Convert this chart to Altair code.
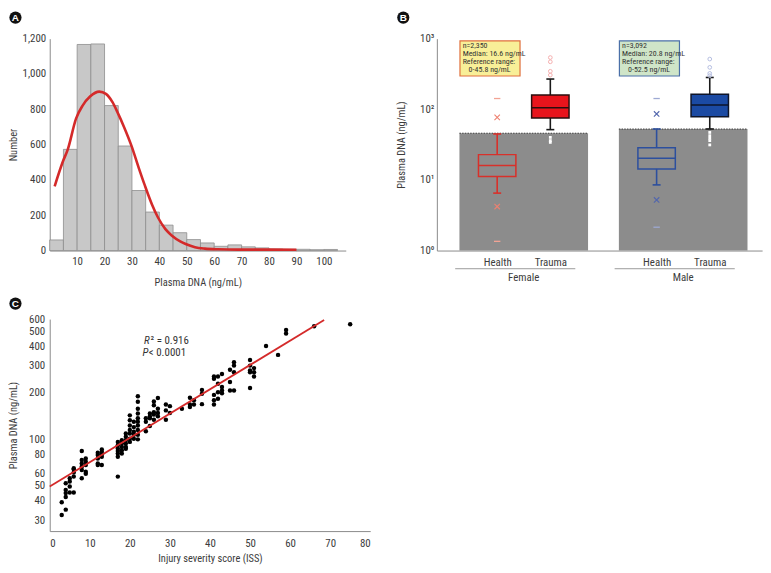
import altair as alt
import pandas as pd

FONT = "Roboto Condensed, Liberation Sans Narrow, DejaVu Sans Condensed, Roboto, sans-serif"
BOLD = "Liberation Sans, Arial, sans-serif"

# ---------------- Panel A : histogram ----------------
bin_start = list(range(0, 105, 5))
bin_count = [60, 573, 1167, 1170, 821, 592, 340, 218, 144, 101, 62, 43, 24, 32, 21, 15, 9, 7, 7, 5, 6]
fit_x = [1.8, 4.8, 6.6, 9.6, 12.0, 14.7, 18.1, 20.5, 22.9, 24.7, 27.1, 29.8, 32.5, 34.6,
         37.3, 39.5, 42.2, 44.6, 47.6, 49.6, 53.0, 56.6, 61.4, 68.7, 78.3, 90.0]
fit_y = [364, 504, 573, 747, 821, 872, 900, 887, 840, 784, 700, 594, 467, 373,
         261, 187, 121, 84, 52, 37, 19, 11, 7, 5, 5, 4]

# ---------------- Panel B : box plots ----------------
box_group = ["Female Health", "Female Trauma", "Male Health", "Male Trauma"]
box_q1 = [11.2, 75.3, 14.3, 78.6]
box_median = [16.0, 105, 20.2, 115]
box_q3 = [22.8, 159, 28.6, 162.6]
whisker_low = [6.5, 51.5, 8.5, 52.6]
whisker_high = [44.7, 268, 52.6, 282]

cross_group = ["Female Health", "Female Health", "Male Health", "Male Health"]
cross_value = [76.9, 4.2, 85.8, 5.2]
dash_group = ["Female Health", "Female Health", "Male Health", "Male Health"]
dash_value = [142, 1.35, 142, 2.14]
high_out_group = ["Female Trauma"] * 4 + ["Male Trauma"] * 4
high_out_value = [540, 470, 345, 305, 514, 392, 322, 299]
low_out_group = ["Female Trauma"] * 3 + ["Male Trauma"] * 5
low_out_value = [40, 36, 34, 47, 42.3, 38.8, 36, 31.3]

sex = ["Female", "Male"]
ref_upper = [45.8, 52.5]
annot_head = ["n=2,350\nMedian: 16.6 ng/mL\nReference range:",
              "n=3,092\nMedian: 20.8 ng/mL\nReference range:"]
annot_range = ["0-45.8 ng/mL", "0-52.5 ng/mL"]

# ---------------- Panel C : scatter ----------------
iss = ([3] * 2 + [4] * 5 + [5] * 4 + [6] * 5 + [8] * 6 + [9] * 5 + [12] * 5 + [13] * 5 +
       [17] * 7 + [18] * 5 + [19] * 6 + [20] * 7 + [21] * 5 + [22] * 10 + [24] * 3 + [25] * 4 +
       [26] * 5 + [27] * 4 + [29] * 3 + [30] * 2 + [33] + [35] * 3 + [36] * 2 + [38] * 3 +
       [41] * 5 + [42] * 4 + [43] * 4 + [45] * 3 + [46] * 4 + [50] * 5 + [51] * 3 +
       [54, 57, 59, 59, 66, 75])
dna = [39.2, 32.4,
       52.0, 47.1, 44.9, 42.4, 35.1,
       56.0, 53.3, 49.5, 45.3,
       64.0, 61.0, 57.4, 45.3, 65.0,
       84.0, 73.5, 69.9, 66.5, 63.3, 56.0,
       75.2, 71.7, 68.2, 61.8, 59.9,
       82.0, 79.2, 75.2, 69.9, 68.2,
       86.0, 83.0, 80.2, 77.2, 68.2,
       96.3, 91.7, 87.3, 84.2, 81.0, 77.2, 57.4,
       98.7, 94.0, 89.4, 85.0, 81.0,
       109, 104, 98.7, 94.0, 89.4, 87.0,
       143, 133, 123, 115, 109, 101, 96.3,
       130, 120, 112, 107, 101,
       190, 175, 158, 147, 137, 130, 123, 115, 107, 100,
       137, 130, 113,
       147, 141, 137, 122,
       176, 166, 150, 145, 134,
       185, 158, 148, 141,
       168, 154, 134,
       164, 148,
       158,
       186, 168, 162,
       179, 168,
       209, 197, 169,
       255, 247, 194, 179, 168,
       255, 229, 202, 183,
       265, 218, 207, 199,
       282, 235, 207,
       315, 300, 272, 207,
       326, 300, 279, 272, 215,
       289, 272, 255,
       402, 352, 510, 484, 540, 556]
reg_x = [0, 68.5]
reg_y = [49.6, 591]

# ---------------- layout constants ----------------
WA, HA = 298, 213.3
WB, HB = 327.4, 213.3
WC, HC = 322.6, 213.4
LINE_RED = "#d42a2a"


def letter(ch, dx, dy):
    base = alt.Chart(pd.DataFrame({"t": [ch]}))
    c = base.mark_circle(color="#111111", opacity=1, size=150).encode(
        x=alt.value(dx), y=alt.value(dy))
    t = base.mark_text(color="white", font=BOLD, fontWeight="bold", fontSize=10,
                       baseline="middle", align="center").encode(
        x=alt.value(dx), y=alt.value(dy + 0.5), text="t:N")
    return [c, t]


# ================= Panel A =================
dfA = pd.DataFrame({"start": bin_start, "count": bin_count})
dfA["end"] = dfA["start"] + 5
dfFit = pd.DataFrame({"x": fit_x, "y": fit_y})
xA = alt.Scale(domain=[0, 108], nice=False, zero=False)
yA = alt.Scale(domain=[0, 1200], nice=False)
axA_x = alt.Axis(values=list(range(10, 101, 10)), title="Plasma DNA (ng/mL)",
                 titleY=32, titleBaseline="middle", labelPadding=5)
axA_y = alt.Axis(values=list(range(0, 1201, 200)), labelExpr="format(datum.value, ',')",
                 title="Number", titleX=-36, titleY=HA / 2, titleAngle=-90,
                 titleBaseline="middle", labelPadding=4)

histA = alt.Chart(dfA).mark_rect(fill="#c8c8c8", stroke="#8e8e8e", strokeWidth=0.8).encode(
    x=alt.X("start:Q", scale=xA, axis=axA_x),
    x2="end:Q",
    y=alt.Y("count:Q", scale=yA, axis=axA_y),
    y2=alt.datum(0),
)
fitA = alt.Chart(dfFit).mark_line(color=LINE_RED, strokeWidth=2.6, interpolate="monotone").encode(
    x=alt.X("x:Q", scale=xA, axis=axA_x),
    y=alt.Y("y:Q", scale=yA, axis=axA_y),
)
anchor = alt.Chart(pd.DataFrame({"a": [0]})).mark_rect(opacity=0).encode(
    x=alt.value(-42), x2=alt.value(-41.5), y=alt.value(-28.7), y2=alt.value(-28.2))
panelA = alt.layer(histA, fitA, anchor, *letter("A", -34.5, -21.2)).properties(width=WA, height=HA)

# ================= Panel B =================
slot_order = ["Female Health", "Female Trauma", None, "Male Health", "Male Trauma"]
slot = {g: i + 1 for i, g in enumerate(slot_order) if g}
BOX_HALF, CAP_HALF, DASH_HALF, GRAY_HALF = 0.352, 0.075, 0.06, 1.21

xB = alt.Scale(domain=[-0.135, 5.985], nice=False, zero=False)
yB = alt.Scale(type="log", domain=[1, 1000], nice=False)
label_expr = ("datum.value == 1 ? '10\u2070' : datum.value == 10 ? '10\u00b9' : "
              "datum.value == 100 ? '10\u00b2' : '10\u00b3'")
axB_x = alt.Axis(values=[1, 2, 4, 5], title=None, labelPadding=6, labelFontSize=11,
                 labelExpr="datum.value == 1 || datum.value == 4 ? 'Health' : 'Trauma'")
axB_y = alt.Axis(values=[1, 10, 100, 1000], labelExpr=label_expr, labelPadding=3,
                 title="Plasma DNA (ng/mL)", titleX=-35.3, titleY=HB / 2,
                 titleAngle=-90, titleBaseline="middle")


def XB(f):
    return alt.X(f, scale=xB, axis=axB_x)


def YB(f):
    return alt.Y(f, scale=yB, axis=axB_y)


dfSex = pd.DataFrame({"sex": sex, "ref": ref_upper, "head": annot_head, "range": annot_range})
dfSex["mid"] = [(slot[s + " Health"] + slot[s + " Trauma"]) / 2 for s in sex]
dfSex["gl"] = dfSex["mid"] - GRAY_HALF
dfSex["gr"] = dfSex["mid"] + GRAY_HALF
dfSex["bl"] = dfSex["mid"] - 1.20
dfSex["br"] = dfSex["mid"] - 0.07
dfSex["tx"] = dfSex["mid"] - 1.15
dfSex["ul"] = dfSex["mid"] - 1.29
dfSex["ur"] = dfSex["mid"] + 0.97

grayB = alt.Chart(dfSex).mark_rect(fill="#8c8c8c").encode(
    x=XB("gl:Q"), x2="gr:Q", y=YB("ref:Q"), y2=alt.datum(1))
dotB = alt.Chart(dfSex).mark_rule(color="#3a3a3a", strokeDash=[1.5, 1.2], strokeWidth=1).encode(
    x=XB("gl:Q"), x2="gr:Q", y=YB("ref:Q"))

box_df = pd.DataFrame({"group": box_group, "q1": box_q1, "med": box_median, "q3": box_q3,
                       "wlo": whisker_low, "whi": whisker_high})
box_df["s"] = box_df["group"].map(slot)
box_df["l"] = box_df["s"] - BOX_HALF
box_df["r"] = box_df["s"] + BOX_HALF
box_df["cl"] = box_df["s"] - CAP_HALF
box_df["cr"] = box_df["s"] + CAP_HALF

style = {
    "Female Health": dict(fill="#000000", fo=0, stroke="#d8302a", line="#d8302a", med="#d8302a"),
    "Female Trauma": dict(fill="#e8141c", fo=1, stroke="#2a0e0e", line="#1a1a1a", med="#2a0e0e"),
    "Male Health": dict(fill="#000000", fo=0, stroke="#2c4f9e", line="#2c4f9e", med="#2c4f9e"),
    "Male Trauma": dict(fill="#1b4aa3", fo=1, stroke="#0e1428", line="#1a1a1a", med="#0e1428"),
}

box_layers = []
for g in box_group:
    st = style[g]
    base = alt.Chart(box_df).transform_filter(alt.datum.group == g)
    box_layers += [
        base.mark_rule(color=st["line"], strokeWidth=1.6).encode(x=XB("s:Q"), y=YB("wlo:Q"), y2="q1:Q"),
        base.mark_rule(color=st["line"], strokeWidth=1.6).encode(x=XB("s:Q"), y=YB("q3:Q"), y2="whi:Q"),
        base.mark_rule(color=st["line"], strokeWidth=1.6).encode(x=XB("cl:Q"), x2="cr:Q", y=YB("wlo:Q")),
        base.mark_rule(color=st["line"], strokeWidth=1.6).encode(x=XB("cl:Q"), x2="cr:Q", y=YB("whi:Q")),
        base.mark_rect(fill=st["fill"], fillOpacity=st["fo"], stroke=st["stroke"], strokeWidth=1.5).encode(
            x=XB("l:Q"), x2="r:Q", y=YB("q1:Q"), y2="q3:Q"),
        base.mark_rule(color=st["med"], strokeWidth=1.5).encode(x=XB("l:Q"), x2="r:Q", y=YB("med:Q")),
    ]

cross_df = pd.DataFrame({"group": cross_group, "v": cross_value})
cross_df["s"] = cross_df["group"].map(slot)
dash_df = pd.DataFrame({"group": dash_group, "v": dash_value})
dash_df["s"] = dash_df["group"].map(slot)
dash_df["l"] = dash_df["s"] - DASH_HALF
dash_df["r"] = dash_df["s"] + DASH_HALF
hi_df = pd.DataFrame({"group": high_out_group, "v": high_out_value})
hi_df["s"] = hi_df["group"].map(slot)
lo_df = pd.DataFrame({"group": low_out_group, "v": low_out_value})
lo_df["s"] = lo_df["group"].map(slot)

marker_colors = {"Female": dict(cross="#ee8070", dash="#f2a394", hi="#f4aeae"),
                 "Male": dict(cross="#5266ad", dash="#9ea9d3", hi="#b3bce0")}
XPATH = "M-1,-1L1,1M-1,1L1,-1"
marker_layers = []
for sx in sex:
    mc = marker_colors[sx]
    is_sex = alt.expr.indexof(alt.datum.group, sx) == 0
    marker_layers += [
        alt.Chart(cross_df).transform_filter(is_sex).mark_point(
            shape=XPATH, size=30, color=mc["cross"], strokeWidth=1.1, filled=False, opacity=1).encode(
            x=XB("s:Q"), y=YB("v:Q")),
        alt.Chart(dash_df).transform_filter(is_sex).mark_rule(color=mc["dash"], strokeWidth=1.3).encode(
            x=XB("l:Q"), x2="r:Q", y=YB("v:Q")),
        alt.Chart(hi_df).transform_filter(is_sex).mark_point(
            shape="circle", size=14, color=mc["hi"], strokeWidth=1, filled=False, opacity=1).encode(
            x=XB("s:Q"), y=YB("v:Q")),
    ]
marker_layers.append(
    alt.Chart(lo_df).mark_point(shape="square", size=8, color="white", filled=True, opacity=1).encode(
        x=XB("s:Q"), y=YB("v:Q")))

annot_style = {"Female": ("#f8ef98", "#e0703e"), "Male": ("#cfe5c8", "#4b70a8")}
annot_layers = []
for sx in sex:
    fillc, strokec = annot_style[sx]
    annot_layers.append(
        alt.Chart(dfSex).transform_filter(alt.datum.sex == sx).mark_rect(
            fill=fillc, stroke=strokec, strokeWidth=1.2).encode(
            x=XB("bl:Q"), x2="br:Q", y=alt.value(2.3), y2=alt.value(37.6)))
LH = 8.33
annot_layers += [
    alt.Chart(dfSex).mark_text(align="left", baseline="top", font=FONT, fontSize=8, lineHeight=LH,
                               lineBreak="\n", color="#333333").encode(
        x=XB("tx:Q"), y=alt.value(3.0), text="head:N"),
    alt.Chart(dfSex).mark_text(align="left", baseline="top", font=FONT, fontSize=8, dx=6,
                               color="#333333").encode(
        x=XB("tx:Q"), y=alt.value(3.0 + 3 * LH), text="range:N"),
]

group_layers = [
    alt.Chart(dfSex).mark_rule(color="#9a9a9a", strokeWidth=1).encode(
        x=XB("ul:Q"), x2="ur:Q", y=alt.value(231.6)),
    alt.Chart(dfSex).mark_text(font=FONT, fontSize=11, color="#3c3c3c", baseline="middle").encode(
        x=XB("mid:Q"), y=alt.value(241.3), text="sex:N"),
]

panelB = alt.layer(grayB, dotB, *box_layers, *marker_layers, *annot_layers, *group_layers,
                   *letter("B", -33.8, -21.2)).properties(width=WB, height=HB)

# ================= Panel C =================
dfC = pd.DataFrame({"iss": iss, "dna": dna})
dfReg = pd.DataFrame({"x": reg_x, "y": reg_y})
xC = alt.Scale(domain=[0, 80], nice=False, zero=False)
yC = alt.Scale(type="log", domain=[25.5, 600], nice=False)
axC_x = alt.Axis(values=list(range(0, 81, 10)), title="Injury severity score (ISS)",
                 titleY=27.5, titleBaseline="middle", labelPadding=7)
axC_y = alt.Axis(values=[30, 40, 50, 60, 70, 80, 90, 100, 200, 300, 400, 500, 600],
                 labelExpr="format(datum.value, 'd')", title="Plasma DNA (ng/mL)",
                 titleX=-36.5, titleY=HC / 2, titleAngle=-90, titleBaseline="middle", labelPadding=5)

ptsC = alt.Chart(dfC).mark_circle(color="#000000", size=20, opacity=1).encode(
    x=alt.X("iss:Q", scale=xC, axis=axC_x),
    y=alt.Y("dna:Q", scale=yC, axis=axC_y),
)
regC = alt.Chart(dfReg).mark_line(color=LINE_RED, strokeWidth=1.8).encode(
    x=alt.X("x:Q", scale=xC, axis=axC_x), y=alt.Y("y:Q", scale=yC, axis=axC_y))
txt = pd.DataFrame({"a": [0]})
statC = [
    alt.Chart(txt).mark_text(text="R", font=FONT, fontSize=11, fontStyle="italic", align="left",
                             baseline="middle", color="#333333").encode(x=alt.value(95), y=alt.value(22.5)),
    alt.Chart(txt).mark_text(text="\u00b2 = 0.916", font=FONT, fontSize=11, align="left",
                             baseline="middle", color="#333333").encode(x=alt.value(101.5), y=alt.value(22.5)),
    alt.Chart(txt).mark_text(text="P", font=FONT, fontSize=11, fontStyle="italic", align="left",
                             baseline="middle", color="#333333").encode(x=alt.value(93.3), y=alt.value(34.4)),
    alt.Chart(txt).mark_text(text="< 0.0001", font=FONT, fontSize=11, align="left",
                             baseline="middle", color="#333333").encode(x=alt.value(99.8), y=alt.value(34.4)),
]
panelC = alt.layer(ptsC, regC, *statC, *letter("C", -34.5, -15.6)).properties(width=WC, height=HC)

chart = alt.concat(panelA, panelB, panelC, columns=2,
                   spacing={"row": 68.3, "column": 66.7},
                   bounds="flush", align="each").properties(
    padding=0
).configure_view(stroke=None).configure_axis(
    grid=False, ticks=False, domainColor="#8a8a8a", domainWidth=1,
    labelColor="#3c3c3c", titleColor="#3c3c3c", labelFont=FONT, titleFont=FONT,
    labelFontSize=11, titleFontSize=10.5, titleFontWeight="normal",
)

chart.save("out.html", embed_options={"renderer": "svg", "actions": False})
